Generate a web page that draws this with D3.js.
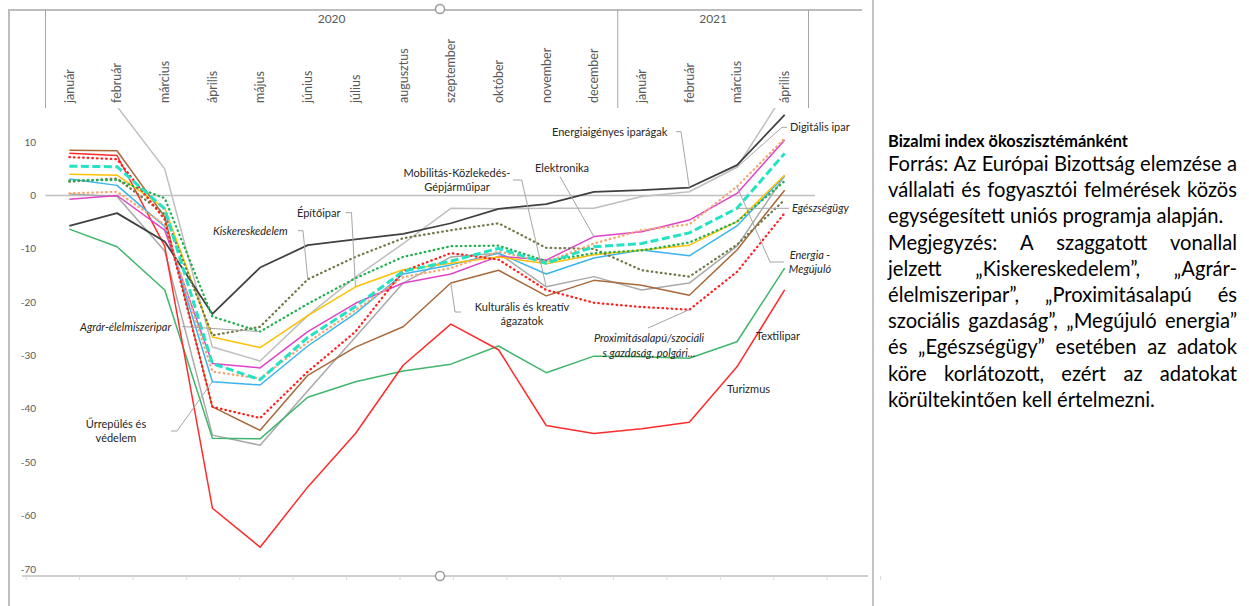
<!DOCTYPE html>
<html>
<head>
<meta charset="utf-8">
<script src="https://cdn.jsdelivr.net/npm/d3@7"></script>
<style>
body { margin: 0; background: #fff; }
svg { display: block; font-family: Lato, "Noto Sans", sans-serif; }
</style>
</head>
<body>
<svg id="chart" width="1249" height="606"></svg>
<script>
// categories
var months = ["január","február","március","április","május","június","július","augusztus",
	"szeptember","október","november","december","január","február","március","április"];
var years = ["2020","2021"];
var yearMonths = [12, 4];
var yTicks = [10, 0, -10, -20, -30, -40, -50, -60, -70];

// series values
var energiaigenyes = [-5.7,-3.3,-8.6,-22.2,-13.5,-9.3,-8.2,-7.2,-5.2,-2.5,-1.6,0.7,1.0,1.5,5.7,15.1];
var digitalis      = [20.0,16.7,5.0,-28.4,-31.0,-22.5,-15.3,-9.0,-2.4,-2.5,-2.4,-2.4,-0.2,0.7,5.3,19.3];
var mobilitas      = [0.3,-0.2,-10.4,-44.9,-46.8,-36.6,-26.5,-16.4,-11.5,-10.8,-17.1,-15.2,-17.7,-16.4,-9.5,3.7];
var elektronika    = [-0.7,0.0,-6.5,-31.5,-32.3,-25.5,-20.2,-16.4,-14.7,-11.4,-12.1,-7.7,-6.8,-4.6,0.4,10.4];
var epitoipar      = [4.0,3.8,-2.4,-26.5,-28.5,-22.5,-17.1,-13.9,-12.7,-11.5,-12.8,-11.1,-10.2,-9.3,-4.9,3.8];
var urrepules      = [3.1,1.9,-5.8,-34.9,-35.5,-28.2,-22.1,-14.7,-13.0,-10.8,-14.7,-11.7,-10.2,-11.3,-5.7,3.7];
var kulturalis     = [8.5,8.4,-4.0,-39.6,-44.0,-33.7,-28.4,-24.6,-16.4,-14.0,-18.8,-15.9,-16.8,-18.7,-10.2,1.0];
var textilipar     = [-6.3,-9.6,-17.7,-45.5,-45.6,-37.8,-34.9,-32.9,-31.6,-28.2,-33.2,-30.1,-30.2,-30.5,-27.4,-13.6];
var turizmus       = [7.9,7.5,-9.5,-58.6,-65.9,-54.6,-44.6,-31.8,-24.1,-28.9,-43.1,-44.6,-43.7,-42.5,-32.1,-17.7];
var kiskereskedelem= [2.6,3.2,-3.5,-26.2,-24.6,-15.7,-11.5,-8.0,-6.5,-5.2,-9.8,-10.0,-14.0,-15.2,-9.2,-0.8];
var agrar          = [2.8,2.9,-0.5,-22.7,-25.5,-20.3,-15.5,-11.5,-9.5,-9.4,-12.3,-10.8,-10.3,-8.8,-4.9,2.7];
var proximitas     = [7.2,6.8,-4.5,-39.6,-41.7,-33.0,-25.5,-14.2,-10.8,-12.0,-17.7,-20.1,-20.9,-21.4,-14.3,-3.3];
var megujulo       = [0.4,0.7,-5.5,-33.0,-34.3,-27.5,-21.5,-15.3,-13.6,-10.5,-12.5,-9.0,-6.5,-5.4,1.7,10.7];
var egeszsegugy    = [5.5,5.4,-2.5,-31.5,-34.5,-26.6,-20.8,-14.2,-12.3,-9.9,-12.7,-9.6,-9.0,-7.0,-2.4,7.9];

var DOT = "0.6 4", DASH = "8 3.5";
var series = [
	{key:"digitalis", values:digitalis, color:"#bfbfbf", w:1.5},
	{key:"mobilitas", values:mobilitas, color:"#a9a9a9", w:1.5},
	{key:"textilipar", values:textilipar, color:"#3fb66b", w:1.5},
	{key:"turizmus", values:turizmus, color:"#ff2b2b", w:1.5},
	{key:"kulturalis", values:kulturalis, color:"#a8693a", w:1.5},
	{key:"urrepules", values:urrepules, color:"#3ab3f0", w:1.5},
	{key:"elektronika", values:elektronika, color:"#e143c8", w:1.5},
	{key:"epitoipar", values:epitoipar, color:"#ffc000", w:1.5},
	{key:"energiaigenyes", values:energiaigenyes, color:"#404040", w:1.75},
	{key:"kiskereskedelem", values:kiskereskedelem, color:"#6e7b48", w:2.25, dash:DOT},
	{key:"agrar", values:agrar, color:"#1fb04c", w:2.25, dash:DOT},
	{key:"megujulo", values:megujulo, color:"#f5a673", w:2.25, dash:DOT},
	{key:"proximitas", values:proximitas, color:"#ff2020", w:2.25, dash:DOT},
	{key:"egeszsegugy", values:egeszsegugy, color:"#22e3c4", w:3, dash:DASH}
];

// data labels with their leader lines (layout only)
var labels = [
	{key:"energiaigenyes", text:["Energiaigényes iparágak"], x:552, y:131.7, anchor:"start", leader:[[676,131.7],[681,131.7]], at:13},
	{key:"digitalis", text:["Digitális ipar"], x:790, y:127.3, anchor:"start", leader:[[787,127.3],[782,127.3]], at:14},
	{key:"elektronika", text:["Elektronika"], x:535, y:168, anchor:"start", leader:[[560,176.5]], at:11},
	{key:"mobilitas", text:["Mobilitás-Közlekedés-","Gépjárműipar"], x:457, y:173, anchor:"middle", leader:[[513,180],[521.7,180]], at:10},
	{key:"epitoipar", text:["Építőipar"], x:297, y:212.7, anchor:"start", leader:[[345.5,212.7],[351.5,212.7]], at:6},
	{key:"kiskereskedelem", text:["Kiskereskedelem"], x:213, y:230.7, anchor:"start", italic:true, leader:[[298,230.7],[303,230.7]], at:5},
	{key:"agrar", text:["Agrár-élelmiszeripar"], x:80, y:326.7, anchor:"start", italic:true, leader:[[182,326.5]], at:4},
	{key:"urrepules", text:["Űrrepülés és","védelem"], x:116, y:424, anchor:"middle", leader:[[171,431],[177,431]], at:3},
	{key:"kulturalis", text:["Kulturális és kreatív","ágazatok"], x:522, y:306.7, anchor:"middle", leader:[[461,312],[455,312]], at:8},
	{key:"egeszsegugy", text:["Egészségügy"], x:792, y:208.3, anchor:"start", italic:true, leader:[[789,208.3]], at:14},
	{key:"megujulo", text:["Energia -","Megújuló"], x:810, y:255, anchor:"middle", italic:true, leader:[[784,262],[770,262]], at:14},
	{key:"proximitas", text:["Proximitásalapú/szociáli","s gazdaság, polgári..."], x:649, y:338.3, anchor:"middle", italic:true, leader:[[648,328]], at:13},
	{key:"textilipar", text:["Textilipar"], x:756, y:336, anchor:"start"},
	{key:"turizmus", text:["Turizmus"], x:727, y:389.3, anchor:"start"}
];

var titleText = "Bizalmi index ökoszisztémánként";
var noteLines = [
	{t:"Forrás: Az Európai Bizottság elemzése a", j:true},
	{t:"vállalati és fogyasztói felmérések közös", j:true},
	{t:"egységesített uniós programja alapján.", j:false},
	{t:"Megjegyzés: A szaggatott vonallal", j:true},
	{t:"jelzett „Kiskereskedelem”, „Agrár-", j:true},
	{t:"élelmiszeripar”, „Proximitásalapú és", j:true},
	{t:"szociális gazdaság”, „Megújuló energia”", j:true},
	{t:"és „Egészségügy” esetében az adatok", j:true},
	{t:"köre korlátozott, ezért az adatokat", j:true},
	{t:"körültekintően kell értelmezni.", j:false}
];

var svg = d3.select("#chart");
var x = d3.scaleBand().domain(d3.range(months.length)).range([45.5, 808.5]);
var y = d3.scaleLinear().domain([-71.3, 16.4]).range([576, 108]);
function cx(i) { return x(i) + x.bandwidth() / 2; }

// chart frame and panel divider
svg.append("line").attr("x1", 9).attr("y1", 10).attr("x2", 862).attr("y2", 10)
	.attr("stroke", "#bdbdbd").attr("stroke-width", 2);
svg.append("line").attr("x1", 9).attr("y1", 9).attr("x2", 9).attr("y2", 606)
	.attr("stroke", "#bdbdbd").attr("stroke-width", 2);
svg.append("line").attr("x1", 873).attr("y1", 0).attr("x2", 873).attr("y2", 606)
	.attr("stroke", "#b0b0b0").attr("stroke-width", 1.5);

// header: multi-level category axis at the top
var bounds = [x(0), x(12), x(15) + x.bandwidth()];
svg.selectAll(".hdiv").data(bounds).enter().append("line")
	.attr("x1", function(d){ return d; }).attr("x2", function(d){ return d; })
	.attr("y1", 10).attr("y2", 108).attr("stroke", "#a6a6a6").attr("stroke-width", 1);

var start = 0;
years.forEach(function(yr, k) {
	var a = x(start), b = x(start + yearMonths[k] - 1) + x.bandwidth();
	svg.append("text").attr("x", (a + b) / 2).attr("y", 19).attr("dy", "0.35em")
		.attr("text-anchor", "middle").attr("font-size", 12).attr("fill", "#595959").text(yr);
	start += yearMonths[k];
});

svg.selectAll(".month").data(months).enter().append("text")
	.attr("transform", function(d, i){ return "translate(" + cx(i) + ",103) rotate(-90)"; })
	.attr("dy", "0.35em").attr("text-anchor", "start")
	.attr("font-size", 12.5).attr("fill", "#595959").text(function(d){ return d; });

// y axis labels
svg.selectAll(".ytick").data(yTicks).enter().append("text")
	.attr("x", 36).attr("y", function(d){ return y(d); }).attr("dy", "0.35em")
	.attr("text-anchor", "end").attr("font-size", 10).attr("fill", "#595959")
	.text(function(d){ return d; });

// zero line
svg.append("line").attr("x1", 45.5).attr("x2", 815).attr("y1", y(0)).attr("y2", y(0))
	.attr("stroke", "#bfbfbf").attr("stroke-width", 1.5);

// bottom axis with faint ticks
svg.append("line").attr("x1", 22).attr("x2", 868).attr("y1", 576).attr("y2", 576)
	.attr("stroke", "#bfbfbf").attr("stroke-width", 1.5);
svg.selectAll(".btick").data(d3.range(17)).enter().append("line")
	.attr("x1", function(k){ return 26.2 + 53.4 * k; }).attr("x2", function(k){ return 26.2 + 53.4 * k; })
	.attr("y1", 576).attr("y2", 580).attr("stroke", "#d9d9d9").attr("stroke-width", 1);

// lines
svg.append("clipPath").attr("id", "plotclip").append("rect")
	.attr("x", 45.5).attr("y", 108).attr("width", 763).attr("height", 468);

var line = d3.line().x(function(d, i){ return cx(i); }).y(function(d){ return y(d); });

svg.append("g").attr("clip-path", "url(#plotclip)")
	.selectAll("path").data(series).enter().append("path")
	.attr("d", function(s){ return line(s.values); })
	.attr("fill", "none")
	.attr("stroke", function(s){ return s.color; })
	.attr("stroke-width", function(s){ return s.w; })
	.attr("stroke-dasharray", function(s){ return s.dash || null; })
	.attr("stroke-linecap", function(s){ return s.dash === DOT ? "round" : "butt"; })
	.attr("stroke-linejoin", "round");

// labels and leaders
var byKey = {};
series.forEach(function(s){ byKey[s.key] = s; });

var lg = svg.append("g");
labels.forEach(function(l) {
	if (l.leader) {
		var pts = l.leader.concat([[cx(l.at), y(byKey[l.key].values[l.at])]]);
		lg.append("path").attr("d", d3.line()(pts)).attr("fill", "none")
			.attr("stroke", "#a6a6a6").attr("stroke-width", 1);
	}
	var t = lg.append("text").attr("font-size", 11).attr("fill", "#262626")
		.attr("text-anchor", l.anchor)
		.attr("font-style", l.italic ? "italic" : "normal");
	l.text.forEach(function(s, k) {
		t.append("tspan").attr("x", l.x).attr("y", l.y + k * 14.5).attr("dy", "0.35em").text(s);
	});
});

// note panel on the right, justified; font sizes fitted to the widths in the picture
var px0 = 888, px1 = 1237;
var note = svg.append("g").attr("fill", "#000");

function textWidth(s, size, bold) {
	var tmp = note.append("text").attr("font-size", size).attr("font-weight", bold ? "bold" : null).text(s);
	var w = tmp.node().getComputedTextLength();
	tmp.remove();
	return w;
}
var titleSize = 20 * 240 / textWidth(titleText, 20, true);
var bodySize = 20 * 267 / textWidth(noteLines[9].t, 20, false);

note.append("text").attr("x", px0).attr("y", 141).attr("dy", "0.35em")
	.attr("font-size", titleSize).attr("font-weight", "bold").text(titleText);

noteLines.forEach(function(ln, k) {
	var yy = 164 + 26.2 * k;
	var t = note.append("text").attr("y", yy).attr("dy", "0.35em").attr("font-size", bodySize);
	if (!ln.j) {
		t.attr("x", px0).text(ln.t);
		return;
	}
	var words = ln.t.split(" ");
	var widths = words.map(function(w){ return textWidth(w, bodySize, false); });
	var gap = (px1 - px0 - d3.sum(widths)) / (words.length - 1);
	var xx = px0;
	words.forEach(function(w, i) {
		t.append("tspan").attr("x", xx).text(w);
		xx += widths[i] + gap;
	});
});

// selection handles of the chart object
[[440, 9], [440, 576]].forEach(function(p) {
	svg.append("circle").attr("cx", p[0]).attr("cy", p[1]).attr("r", 4.5)
		.attr("fill", "#fff").attr("stroke", "#9a9a9a").attr("stroke-width", 1.5);
});
</script>
</body>
</html>
